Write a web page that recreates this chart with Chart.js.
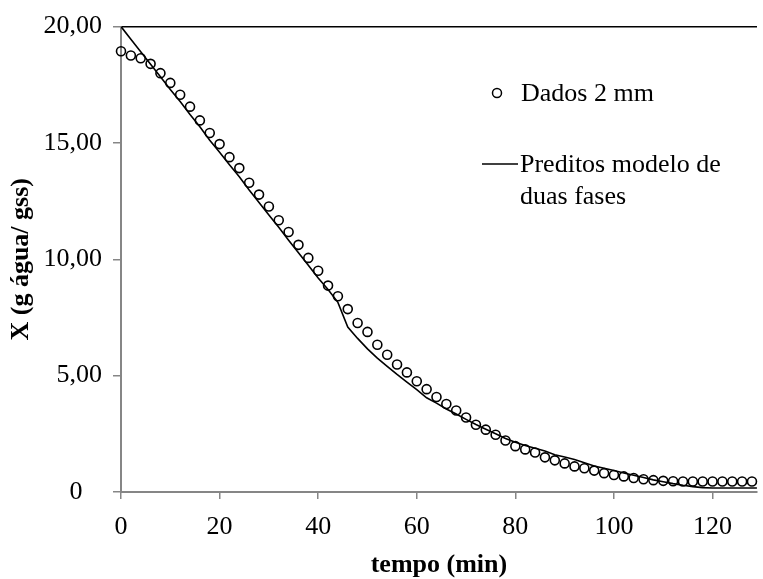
<!DOCTYPE html>
<html>
<head>
<meta charset="utf-8">
<script src="https://cdn.jsdelivr.net/npm/chart.js@4.4.1/dist/chart.umd.min.js"></script>
<style>
  html, body { margin: 0; padding: 0; background: #fff; }
  #wrap { width: 763px; height: 579px; }
</style>
</head>
<body>
<div id="wrap"><canvas id="chart" width="763" height="579"></canvas></div>
<script>
// tempo (min) of the measured points
const tempoDados = [0, 2, 4, 6, 8, 10, 12, 14, 16, 18, 20, 22, 24, 26, 28, 30, 32, 34, 36, 38,
    40, 42, 44, 46, 48, 50, 52, 54, 56, 58, 60, 62, 64, 66, 68, 70, 72, 74, 76, 78,
    80, 82, 84, 86, 88, 90, 92, 94, 96, 98, 100, 102, 104, 106, 108, 110, 112, 114, 116, 118,
    120, 122, 124, 126, 128];
const xDados = [18.94, 18.76, 18.64, 18.40, 18.00, 17.58, 17.07, 16.56, 15.97, 15.43, 14.95, 14.39, 13.92, 13.29, 12.78, 12.27, 11.68, 11.17, 10.62, 10.06,
    9.51, 8.87, 8.41, 7.86, 7.26, 6.88, 6.33, 5.90, 5.48, 5.14, 4.76, 4.42, 4.08, 3.78, 3.50, 3.20, 2.89, 2.68, 2.46, 2.21,
    1.97, 1.83, 1.70, 1.49, 1.36, 1.23, 1.10, 1.02, 0.92, 0.81, 0.73, 0.67, 0.60, 0.55, 0.51, 0.48, 0.46, 0.45, 0.45, 0.45,
    0.45, 0.45, 0.45, 0.45, 0.45];

// model curve
const tempoModelo = [0, 2, 4, 6, 8, 10, 12, 14, 16, 18, 20, 22, 24, 26, 28, 30, 32, 34, 36, 38,
    40, 42, 44, 46, 48, 50, 52, 54, 56, 58, 60, 62, 64, 66, 68, 70, 72, 74, 76, 78,
    80, 82, 84, 86, 88, 90, 92, 94, 96, 98, 100, 102, 104, 106, 108, 110, 112, 114, 116, 118,
    120, 130];
const xModelo = [20.00, 19.46, 18.92, 18.38, 17.84, 17.30, 16.78, 16.22, 15.70, 15.12, 14.60, 14.06, 13.55, 12.98, 12.44, 11.90, 11.38, 10.82, 10.28, 9.74,
    9.20, 8.70, 8.15, 7.09, 6.60, 6.15, 5.75, 5.40, 5.05, 4.72, 4.40, 4.05, 3.82, 3.57, 3.35, 3.12, 2.90, 2.70, 2.50, 2.30,
    2.14, 2.00, 1.88, 1.76, 1.60, 1.50, 1.40, 1.26, 1.12, 1.02, 0.92, 0.82, 0.72, 0.62, 0.52, 0.44, 0.36, 0.29, 0.23, 0.19,
    0.17, 0.17];

const xTicks = [0, 20, 40, 60, 80, 100, 120];
const yTicks = [0, 5, 10, 15, 20];
const yTickLabels = ['0   ', '5,00', '10,00', '15,00', '20,00'];

const serif = '"Liberation Serif", "Times New Roman", serif';
const gray = '#868686';

const toPts = (xs, ys) => xs.map((x, i) => ({ x: x, y: ys[i] }));

// legend drawn inside the plot
const legendPlugin = {
    id: 'insideLegend',
    afterDraw(chart) {
        const ctx = chart.ctx;
        const ds = chart.data.datasets;
        ctx.save();
        ctx.font = '26px ' + serif;
        ctx.fillStyle = '#000';
        ctx.textBaseline = 'middle';
        // circle marker
        ctx.beginPath();
        ctx.arc(497, 93, 4.5, 0, Math.PI * 2);
        ctx.lineWidth = 1.5;
        ctx.strokeStyle = '#000';
        ctx.stroke();
        ctx.fillText(ds[0].label, 521, 94);
        // line marker
        ctx.beginPath();
        ctx.moveTo(482, 164);
        ctx.lineTo(518, 164);
        ctx.lineWidth = 1.5;
        ctx.stroke();
        ctx.fillText(ds[1].legendLines[0], 520, 165);
        ctx.fillText(ds[1].legendLines[1], 520, 197);
        ctx.restore();
    }
};

new Chart(document.getElementById('chart'), {
    type: 'scatter',
    plugins: [legendPlugin],
    data: {
        datasets: [
            {
                label: 'Dados 2 mm',
                data: toPts(tempoDados, xDados),
                showLine: false,
                pointStyle: 'circle',
                pointRadius: 4.5,
                pointBorderWidth: 1.6,
                pointBorderColor: '#000',
                pointBackgroundColor: 'rgba(0,0,0,0)',
                clip: false,
            },
            {
                label: 'Preditos modelo de duas fases',
                legendLines: ['Preditos modelo de', 'duas fases'],
                data: toPts(tempoModelo, xModelo),
                showLine: true,
                borderColor: '#000',
                borderWidth: 1.6,
                pointRadius: 0,
                tension: 0,
            },
        ],
    },
    options: {
        responsive: false,
        animation: false,
        layout: { padding: 0 },
        plugins: {
            legend: { display: false },
            tooltip: { enabled: false },
        },
        scales: {
            x: {
                type: 'linear',
                position: 'bottom',
                min: 0,
                max: 129,
                afterBuildTicks: (scale) => { scale.ticks = xTicks.map(v => ({ value: v })); },
                afterFit: (scale) => { scale.height = 87; },
                grid: { display: true, drawOnChartArea: false, drawTicks: true, tickLength: 7, color: gray, lineWidth: 1.5 },
                border: { display: true, color: gray, width: 2 },
                ticks: {
                    color: '#000',
                    font: { family: serif, size: 26 },
                    padding: 13,
                    maxRotation: 0,
                    callback: (v) => String(v),
                },
                title: {
                    display: true,
                    text: 'tempo (min)',
                    color: '#000',
                    font: { family: serif, size: 26, weight: 'bold' },
                    padding: { top: 0, bottom: -2 },
                },
            },
            xTop: {
                type: 'linear',
                position: 'top',
                min: 0,
                max: 129,
                afterFit: (scale) => { scale.height = 21; },
                grid: { display: false },
                border: { display: true, color: '#000', width: 1.5 },
                ticks: { display: false },
            },
            y: {
                type: 'linear',
                position: 'left',
                min: 0,
                max: 20,
                afterBuildTicks: (scale) => { scale.ticks = yTicks.map(v => ({ value: v })); },
                afterFit: (scale) => { scale.width = 121; },
                grid: { display: true, drawOnChartArea: false, drawTicks: true, tickLength: 8, color: gray, lineWidth: 1.5 },
                border: { display: true, color: gray, width: 2 },
                ticks: {
                    color: '#000',
                    font: { family: serif, size: 26 },
                    padding: 11,
                    callback: (v) => yTickLabels[yTicks.indexOf(v)],
                },
                title: {
                    display: true,
                    text: 'X (g água/ gss)',
                    color: '#000',
                    font: { family: serif, size: 26, weight: 'bold' },
                    padding: { top: 6, bottom: 0 },
                },
            },
        },
    },
});
</script>
</body>
</html>
